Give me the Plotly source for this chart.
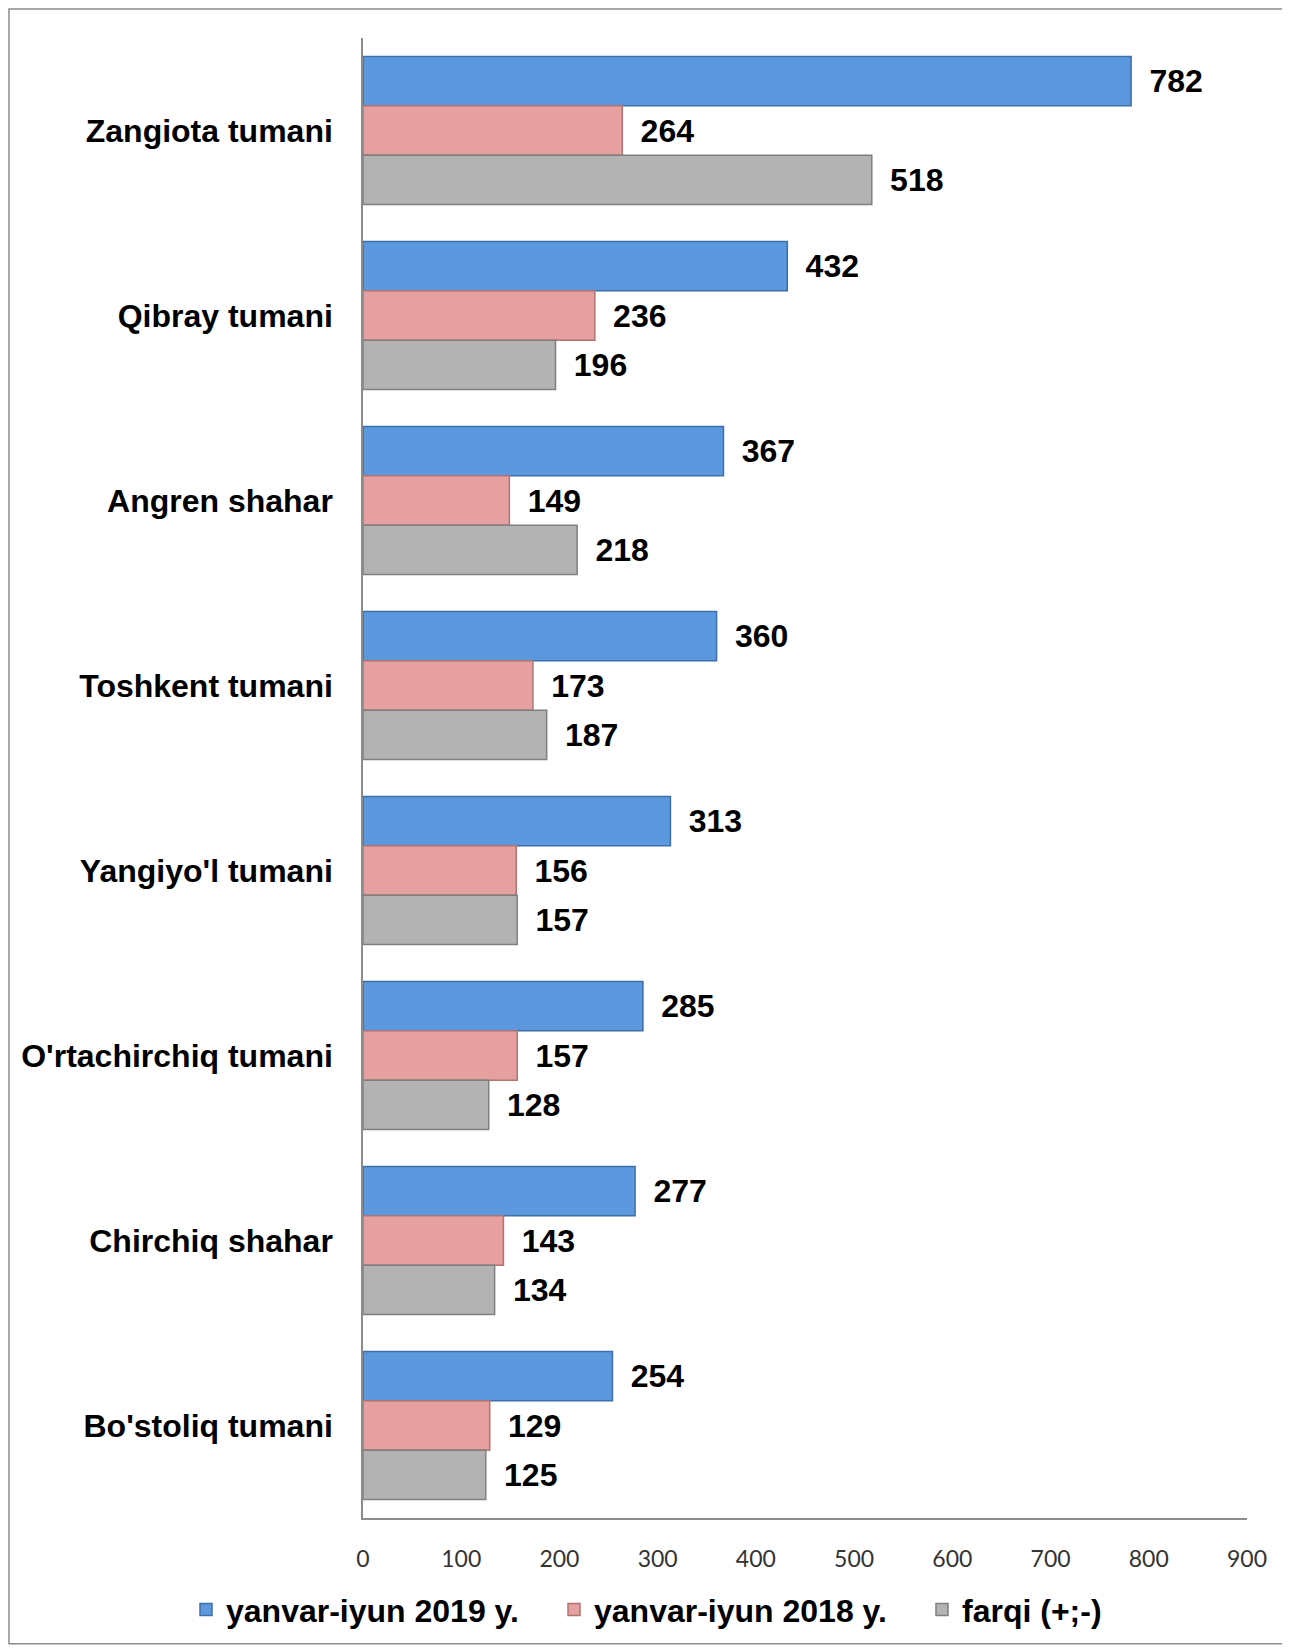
import plotly.graph_objects as go

# Data
districts = [
    "Zangiota tumani",
    "Qibray tumani",
    "Angren shahar",
    "Toshkent tumani",
    "Yangiyo'l tumani",
    "O'rtachirchiq tumani",
    "Chirchiq shahar",
    "Bo'stoliq tumani",
]
values_2019 = [782, 432, 367, 360, 313, 285, 277, 254]
values_2018 = [264, 236, 149, 173, 156, 157, 143, 129]
values_diff = [518, 196, 218, 187, 157, 128, 134, 125]

series_names = ["yanvar-iyun 2019 y.", "yanvar-iyun 2018 y.", "farqi (+;-)"]
x_ticks = [0, 100, 200, 300, 400, 500, 600, 700, 800, 900]

FILL = ["#5B98DE", "#E6A09F", "#B3B3B3"]
EDGE = ["#3D6FA8", "#B07373", "#7F7F7F"]
BOLD = dict(family="Liberation Sans, Arial", size=32, color="black", weight="bold")

# the page body adds 8px, so the figure is a bit smaller than the window
W, H = 1282, 1641
L, R, T, B = 355, 43, 30, 127

fig = go.Figure()
for name, vals, fill, edge in zip(series_names, [values_2019, values_2018, values_diff], FILL, EDGE):
    fig.add_trace(go.Bar(
        y=districts,
        x=vals,
        name=name,
        orientation="h",
        marker=dict(color=fill, line=dict(color=edge, width=1.5)),
        text=vals,
        texttemplate="\u00a0\u2009%{x}",
        textposition="outside",
        textfont=BOLD,
        cliponaxis=False,
    ))

# outer chart border (paper coords are relative to the plot area)
pw, ph = W - L - R, H - T - B
def px_x(x):
    return (x - L) / pw
def px_y(y):
    return 1 - (y - T) / ph

fig.add_shape(type="rect", xref="paper", yref="paper",
              x0=px_x(1), x1=px_x(W - 2), y0=px_y(H - 1), y1=px_y(1),
              line=dict(color="#8C8C8C", width=1.5), fillcolor="rgba(0,0,0,0)", layer="below")

fig.update_layout(
    width=W,
    height=H,
    barmode="group",
    bargap=0.2,
    bargroupgap=0,
    plot_bgcolor="white",
    paper_bgcolor="white",
    margin=dict(l=L, r=R, t=T, b=B, pad=0),
    showlegend=True,
    legend=dict(
        orientation="h",
        x=px_x(219), xanchor="left",
        y=px_y(1606), yanchor="middle",
        font=BOLD,
        itemwidth=30,
        entrywidth=323,
        entrywidthmode="pixels",
        tracegroupgap=0,
    ),
    xaxis=dict(
        range=[0, 900],
        tickvals=x_ticks,
        showgrid=False,
        zeroline=False,
        showline=True,
        linecolor="#8C8C8C",
        linewidth=1.5,
        ticks="",
        ticklabelstandoff=20,
        tickfont=dict(family="Lato, Open Sans", size=23, color="#333333"),
    ),
    yaxis=dict(
        autorange="reversed",
        showgrid=False,
        zeroline=False,
        showline=True,
        linecolor="#8C8C8C",
        linewidth=1.5,
        ticks="",
        ticklabelstandoff=22,
        tickfont=BOLD,
    ),
)

fig.write_html("out.html")
